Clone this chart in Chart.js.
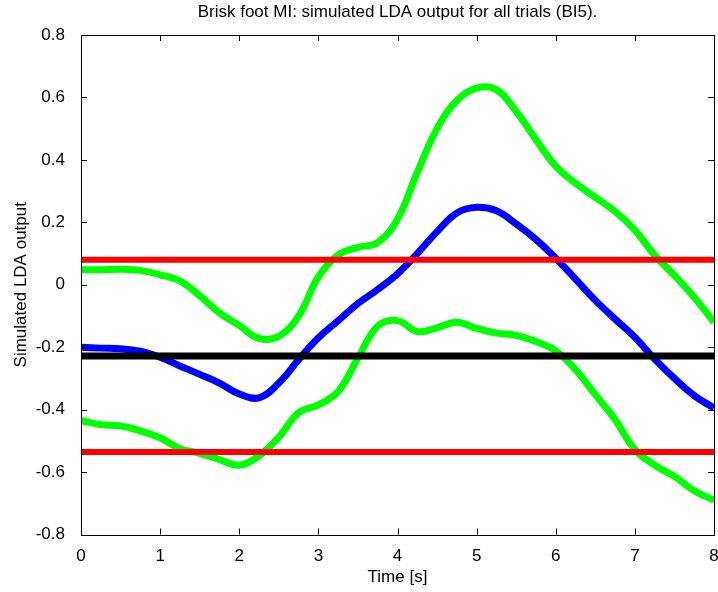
<!DOCTYPE html>
<html>
<head>
<meta charset="utf-8">
<script src="https://cdn.jsdelivr.net/npm/chart.js@4.4.1/dist/chart.umd.min.js"></script>
<style>
  html, body { margin: 0; padding: 0; background: #fff; }
  #wrap { width: 718px; height: 592px; }
</style>
</head>
<body>
<div id="wrap"><canvas id="ldaChart"></canvas></div>
<script>
// Time axis (s), shared by all three curves
const timeS = [0, 0.25, 0.5, 0.75, 1, 1.25, 1.5, 1.75, 2, 2.25, 2.5, 2.75, 3, 3.25, 3.5, 3.75,
               4, 4.25, 4.5, 4.75, 5, 5.25, 5.5, 5.75, 6, 6.25, 6.5, 6.75, 7, 7.25, 7.5, 7.75, 8];

// Upper green curve
const upperBand = [0.048, 0.048, 0.05, 0.046, 0.032, 0.012, -0.035, -0.09, -0.13, -0.172, -0.165, -0.10,
                   0.025, 0.095, 0.12, 0.135, 0.21, 0.36, 0.50, 0.59, 0.63, 0.625, 0.555, 0.465,
                   0.38, 0.325, 0.28, 0.235, 0.175, 0.095, 0.03, -0.04, -0.12];

// Blue curve (mean output)
const meanOutput = [-0.2, -0.203, -0.205, -0.213, -0.232, -0.26, -0.287, -0.315, -0.35, -0.362, -0.315, -0.24,
                    -0.17, -0.115, -0.06, -0.015, 0.035, 0.10, 0.17, 0.23, 0.248, 0.237, 0.195, 0.145,
                    0.085, 0.018, -0.05, -0.11, -0.168, -0.238, -0.30, -0.355, -0.395];

// Lower green curve
const lowerBand = [-0.435, -0.448, -0.452, -0.468, -0.49, -0.525, -0.54, -0.56, -0.578, -0.548, -0.488, -0.41,
                   -0.385, -0.342, -0.235, -0.133, -0.115, -0.15, -0.138, -0.12, -0.14, -0.155, -0.162, -0.182,
                   -0.212, -0.272, -0.352, -0.432, -0.528, -0.578, -0.614, -0.66, -0.69];

// Horizontal reference levels
const baseline = -0.228;
const thresholds = [0.08, -0.536];

const xTicks = [0, 1, 2, 3, 4, 5, 6, 7, 8];
const yTicks = [-0.8, -0.6, -0.4, -0.2, 0, 0.2, 0.4, 0.6, 0.8];

const FONT = 'Liberation Sans, Arial, Helvetica, sans-serif';

function curve(values) {
    return values.map((v, i) => ({ x: timeS[i], y: v }));
}
function hline(v) {
    return [{ x: xTicks[0], y: v }, { x: xTicks[xTicks.length - 1], y: v }];
}

// box around the plot with inward ticks on all sides, like MATLAB axes
const matlabBox = {
    id: 'matlabBox',
    afterDraw(chart) {
        const { ctx, chartArea: a, scales } = chart;
        const len = 6;
        ctx.save();
        ctx.strokeStyle = '#000';
        ctx.lineWidth = 1;
        ctx.beginPath();
        xTicks.forEach(t => {
            const px = Math.round(scales.x.getPixelForValue(t)) + 0.5;
            ctx.moveTo(px, a.bottom); ctx.lineTo(px, a.bottom - len);
            ctx.moveTo(px, a.top); ctx.lineTo(px, a.top + len);
        });
        yTicks.forEach(t => {
            const py = Math.round(scales.y.getPixelForValue(t)) + 0.5;
            ctx.moveTo(a.left, py); ctx.lineTo(a.left + len, py);
            ctx.moveTo(a.right, py); ctx.lineTo(a.right - len, py);
        });
        ctx.stroke();
        ctx.strokeRect(Math.round(a.left) + 0.5, Math.round(a.top) + 0.5,
                       Math.round(a.right - a.left), Math.round(a.bottom - a.top));
        ctx.restore();
    }
};

const common = { pointRadius: 0, fill: false, tension: 0.4, borderCapStyle: 'butt' };

new Chart(document.getElementById('ldaChart'), {
    type: 'line',
    data: {
        datasets: [
            { ...common, data: hline(thresholds[0]), borderColor: '#ff0000', borderWidth: 6, order: 0 },
            { ...common, data: hline(thresholds[1]), borderColor: '#ff0000', borderWidth: 6, order: 0 },
            { ...common, data: hline(baseline), borderColor: '#000000', borderWidth: 7, order: 0 },
            { ...common, data: curve(upperBand), borderColor: '#00ff00', borderWidth: 7, order: 1 },
            { ...common, data: curve(meanOutput), borderColor: '#0000ff', borderWidth: 7, order: 1 },
            { ...common, data: curve(lowerBand), borderColor: '#00ff00', borderWidth: 7, order: 1 }
        ]
    },
    options: {
        responsive: true,
        maintainAspectRatio: false,
        animation: false,
        layout: { padding: { left: 0, right: 4, top: 0, bottom: 0 } },
        plugins: {
            legend: { display: false },
            tooltip: { enabled: false },
            title: {
                display: true,
                fullSize: false,
                text: 'Brisk foot MI: simulated LDA output for all trials (BI5).',
                color: '#000',
                font: { family: FONT, size: 17, weight: 'normal', lineHeight: 1.2 },
                padding: { top: 2, bottom: 12.6 }
            }
        },
        scales: {
            x: {
                type: 'linear',
                min: 0,
                max: 8,
                grid: { display: false },
                border: { display: false },
                afterFit: s => { s.height = 57.5; s.paddingLeft = 0; s.paddingRight = 0; },
                afterBuildTicks: s => { s.ticks = xTicks.map(v => ({ value: v })); },
                ticks: {
                    color: '#000',
                    padding: 4,
                    maxRotation: 0,
                    font: { family: FONT, size: 17 },
                    callback: v => String(v)
                },
                title: {
                    display: true,
                    text: 'Time [s]',
                    color: '#000',
                    font: { family: FONT, size: 17 },
                    padding: { top: 0, bottom: 4 }
                }
            },
            y: {
                min: -0.8,
                max: 0.8,
                grid: { display: false },
                border: { display: false },
                afterFit: s => { s.width = 81; s.paddingTop = 0; s.paddingBottom = 0; },
                afterBuildTicks: s => { s.ticks = yTicks.map(v => ({ value: v })); },
                ticks: {
                    color: '#000',
                    padding: 8,
                    font: { family: FONT, size: 17 },
                    callback: v => {
                        const r = Math.round(v * 10) / 10;
                        return r === 0 ? '0' : String(r);
                    }
                },
                title: {
                    display: true,
                    text: 'Simulated LDA output',
                    color: '#000',
                    font: { family: FONT, size: 17 },
                    padding: { top: 11, bottom: 0 }
                }
            }
        }
    },
    plugins: [matlabBox]
});
</script>
</body>
</html>
